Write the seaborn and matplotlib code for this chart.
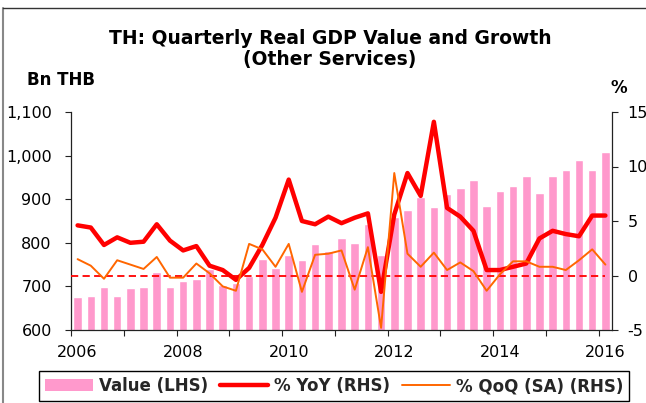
import matplotlib
matplotlib.use("Agg")
import matplotlib.pyplot as plt
import seaborn as sns
import pandas as pd
from matplotlib.patches import Patch
from matplotlib.lines import Line2D
from matplotlib.ticker import FixedLocator, NullFormatter, FuncFormatter

# ---------------- data ----------------
quarters = [f"{y}Q{q}" for y in range(2006, 2017) for q in range(1, 5)][:41]

value = [676, 678, 699, 678, 696, 699, 733, 699, 713, 717,
         741, 703, 708, 723, 762, 742, 772, 761, 797, 781,
         810, 800, 843, 771, 860, 876, 906, 881, 911, 925,
         945, 885, 918, 931, 954, 915, 954, 967, 990, 967,
         1008]

yoy = [4.6, 4.4, 2.8, 3.5, 3.0, 3.1, 4.7, 3.2, 2.3, 2.7,
       0.9, 0.5, -0.4, 0.7, 2.8, 5.3, 8.8, 5.0, 4.7, 5.4,
       4.8, 5.3, 5.7, -1.5, 5.6, 9.4, 7.3, 14.1, 6.2, 5.4,
       4.1, 0.5, 0.5, 0.8, 1.1, 3.4, 4.1, 3.8, 3.6, 5.5,
       5.5]

qoq = [1.5, 0.9, -0.3, 1.4, 1.0, 0.6, 1.7, -0.2, -0.2, 1.1,
       0.2, -1.0, -1.4, 2.9, 2.4, 0.8, 2.9, -1.5, 1.9, 2.0,
       2.3, -1.3, 2.6, -4.8, 9.4, 2.0, 0.8, 2.1, 0.5, 1.2,
       0.4, -1.4, 0.1, 1.3, 1.3, 0.8, 0.8, 0.5, 1.4, 2.4,
       1.0]

year_ticks = list(range(2006, 2017))
year_labels = ["2006", "2008", "2010", "2012", "2014", "2016"]
left_ticks = [600, 700, 800, 900, 1000, 1100]
right_ticks = [-5, 0, 5, 10, 15]

title1 = "TH: Quarterly Real GDP Value and Growth"
title2 = "(Other Services)"
legend_labels = ["Value (LHS)", "% YoY (RHS)", "% QoQ (SA) (RHS)"]

# ---------------- style ----------------
sns.set_theme(style="ticks")
plt.rcParams['font.family'] = ['DejaVu Sans']
plt.rcParams['axes.unicode_minus'] = False

PINK = "#FF99CC"
RED = "#FF0000"
ORANGE = "#FF6600"
SPINE = "#222222"

pos = [int(q[:4]) + (int(q[-1]) - 0.5) / 4 for q in quarters]
df = pd.DataFrame({"quarter": quarters, "pos": pos, "value": value,
                   "yoy": yoy, "qoq": qoq})

W, H = 646, 403
fig = plt.figure(figsize=(W / 100, H / 100), dpi=100)
fig.patch.set_facecolor("white")

L, R, T, B = 71, 612, 112, 330
ax = fig.add_axes([L / W, 1 - B / H, (R - L) / W, (B - T) / H])

sns.barplot(data=df, x="pos", y="value", native_scale=True, width=0.65,
            color=PINK, saturation=1, errorbar=None, ax=ax)
ax.set_xlim(2006, 2016.25)
ax.set_ylim(600, 1100)
ax.set_xlabel("")
ax.set_ylabel("")

ax2 = ax.twinx()
ax2.hlines(0, year_ticks[0], pos[-1], colors=RED, linestyles=(0, (4, 2.4)),
           lw=1.3, zorder=1)
sns.lineplot(data=df, x="pos", y="yoy", color=RED, lw=3.2, ax=ax2,
             solid_joinstyle="round", zorder=2)
sns.lineplot(data=df, x="pos", y="qoq", color=ORANGE, lw=1.4, ax=ax2,
             solid_joinstyle="round", zorder=3)
ax2.set_ylim(-5, 15)
ax2.set_xlim(2006, 2016.25)
ax2.set_xlabel("")
ax2.set_ylabel("")

# axes / spines
for a in (ax, ax2):
    a.spines["top"].set_visible(False)
    for s in a.spines.values():
        s.set_color(SPINE)
        s.set_linewidth(0.9)
    a.patch.set_visible(False)
ax.spines["right"].set_visible(False)
ax2.spines["left"].set_visible(False)
ax2.spines["bottom"].set_visible(False)

ax.set_yticks(left_ticks)
ax.yaxis.set_major_formatter(FuncFormatter(lambda v, p: f"{int(v):,}"))
ax.tick_params(axis="y", which="major", direction="out", length=4.3,
               width=0.8, color=SPINE, labelsize=11.5, pad=9.5,
               labelcolor="black", left=True, right=False)

ax2.set_yticks(right_ticks)
ax2.set_yticklabels([str(t) for t in right_ticks])
ax2.tick_params(axis="y", which="major", direction="out", length=4.3,
                width=0.8, color=SPINE, labelsize=11.5, pad=7,
                labelcolor="black", right=True, left=False)

ax.xaxis.set_major_locator(FixedLocator(year_ticks))
ax.xaxis.set_major_formatter(NullFormatter())
ax.tick_params(axis="x", which="major", direction="out", length=4.3,
               width=0.8, color=SPINE, bottom=True)
minor_pos = [int(y) + 0.125 for y in year_labels]
ax.set_xticks(minor_pos, minor=True)
ax.set_xticklabels(year_labels, minor=True)
ax.tick_params(axis="x", which="minor", length=0, labelsize=11.5, pad=10.5,
               labelcolor="black", bottom=True)

# titles and axis captions
fig.text(330 / W, 1 - 43.8 / H, title1, ha="center", va="baseline",
         fontsize=13.5, fontweight="bold", color="black")
fig.text(330 / W, 1 - 65.3 / H, title2, ha="center", va="baseline",
         fontsize=13.5, fontweight="bold", color="black")
fig.text(27 / W, 1 - 85 / H, "Bn THB", ha="left", va="baseline",
         fontsize=12, fontweight="bold", color="black")
fig.text(619 / W, 1 - 93 / H, "%", ha="center", va="baseline",
         fontsize=12, fontweight="bold", color="black")

# legend
handles = [Patch(facecolor=PINK, edgecolor="none"),
           Line2D([], [], color=RED, lw=3.2),
           Line2D([], [], color=ORANGE, lw=1.4)]
leg = fig.legend(handles, legend_labels, loc="center",
                 bbox_to_anchor=(334 / W, 1 - 386 / H), ncol=3,
                 frameon=True, fancybox=False, edgecolor="black",
                 framealpha=1, prop={"weight": "bold", "size": 12},
                 handlelength=2.9, handletextpad=0.35, columnspacing=0.7,
                 borderpad=0.35, borderaxespad=0)
leg.get_frame().set_linewidth(1.0)

# outer chart frame
fig.add_artist(Line2D([3 / W, 3 / W], [0, 1 - 8 / H], transform=fig.transFigure,
                      color="#888888", lw=1.5))
fig.add_artist(Line2D([3 / W, 1], [1 - 8 / H, 1 - 8 / H], transform=fig.transFigure,
                      color="#333333", lw=1.0))

fig.savefig("out.png", dpi=100, facecolor="white")
